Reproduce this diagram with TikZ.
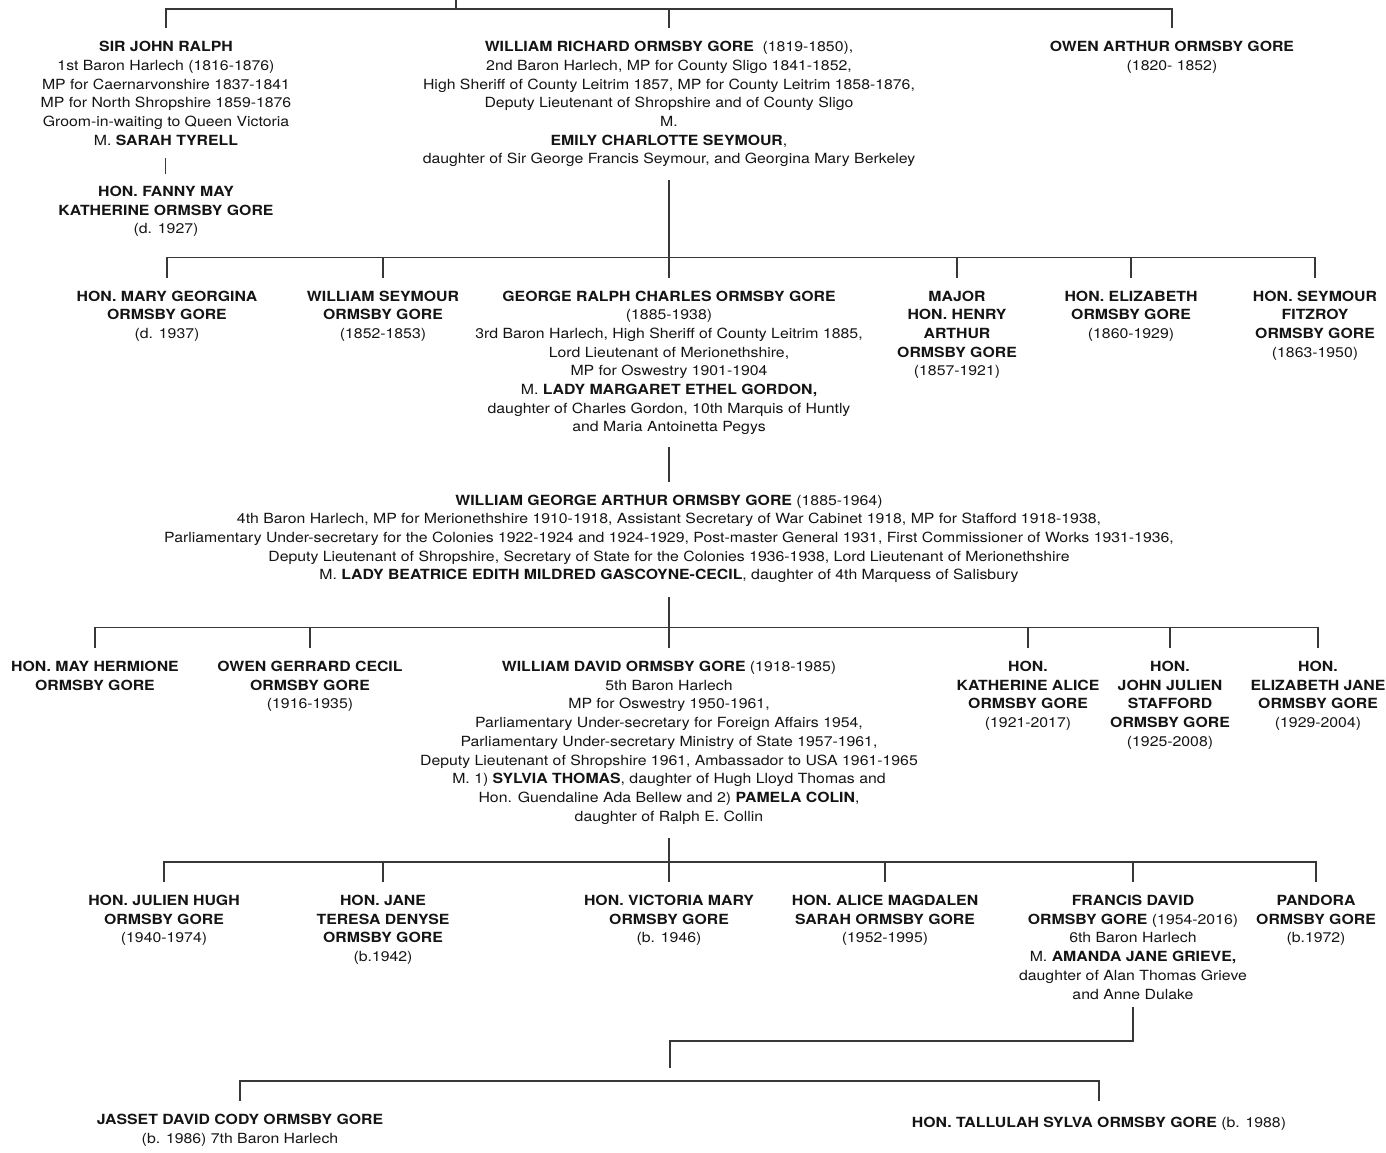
\documentclass[tikz,border=0pt]{standalone}
\usepackage{fontspec}
\setmainfont[FakeStretch=1.13]{TeX Gyre Heros}
\begin{document}
\begin{tikzpicture}[x=1pt,y=-1pt,
  person/.style={align=center, inner sep=0pt, anchor=north, yshift=5.5pt,
    font=\fontsize{14}{18.7}\selectfont, text=black!92,
    execute at begin node=\strut},
  conn/.style={draw=black!78, line width=1.1pt}]
\useasboundingbox (0,0) rectangle (1386,1153);

% ---------- generation 1 ----------
\coordinate (top) at (456,0);
\coordinate (b1) at (456,9);
\node[person] (srj) at (166,46.7) {\textbf{SIR JOHN RALPH}\\1st Baron Harlech (1816-1876)\\MP for Caernarvonshire 1837-1841\\MP for North Shropshire 1859-1876\\Groom-in-waiting to Queen Victoria\\M. \textbf{SARAH TYRELL}};
\node[person] (wrog) at (669,46.7) {\textbf{WILLIAM RICHARD ORMSBY GORE}\ \ (1819-1850),\\2nd Baron Harlech, MP for County Sligo 1841-1852,\\High Sheriff of County Leitrim 1857, MP for County Leitrim 1858-1876,\\Deputy Lieutenant of Shropshire and of County Sligo\\M.\\\textbf{EMILY CHARLOTTE SEYMOUR},\\daughter of Sir George Francis Seymour, and Georgina Mary Berkeley};
\node[person] (oaog) at (1172,46.7) {\textbf{OWEN ARTHUR ORMSBY GORE}\\(1820- 1852)};
\node[person] (fanny) at (166,191.5) {\textbf{HON. FANNY MAY}\\\textbf{KATHERINE ORMSBY GORE}\\(d. 1927)};

\draw[conn] (top) -- (b1);
\draw[conn] ([yshift=13pt]srj.north) |- (b1) -| ([yshift=13pt]oaog.north);
\draw[conn] (b1 -| wrog) -- ([yshift=13pt]wrog.north);
\coordinate (srjd) at (165.5,158);
\coordinate (fannyu) at (165.5,174);
\draw[conn] (srjd) -- (fannyu);

% ---------- generation 2 ----------
\coordinate (wrogd) at (669,180);
\coordinate (b2) at (669,257.3);
\node[person] (mg) at (167,296) {\textbf{HON. MARY GEORGINA}\\\textbf{ORMSBY GORE}\\(d. 1937)};
\node[person] (ws) at (383,296) {\textbf{WILLIAM SEYMOUR}\\\textbf{ORMSBY GORE}\\(1852-1853)};
\node[person] (grc) at (669,296) {\textbf{GEORGE RALPH CHARLES ORMSBY GORE}\\(1885-1938)\\3rd Baron Harlech, High Sheriff of County Leitrim 1885,\\Lord Lieutenant of Merionethshire,\\MP for Oswestry 1901-1904\\M. \textbf{LADY MARGARET ETHEL GORDON,}\\daughter of Charles Gordon, 10th Marquis of Huntly\\and Maria Antoinetta Pegys};
\node[person] (maj) at (957,296) {\textbf{MAJOR}\\\textbf{HON. HENRY}\\\textbf{ARTHUR}\\\textbf{ORMSBY GORE}\\(1857-1921)};
\node[person] (eliz) at (1131,296) {\textbf{HON. ELIZABETH}\\\textbf{ORMSBY GORE}\\(1860-1929)};
\node[person] (sf) at (1315,296) {\textbf{HON. SEYMOUR}\\\textbf{FITZROY}\\\textbf{ORMSBY GORE}\\(1863-1950)};

\draw[conn] (wrogd) -- (b2);
\draw[conn] ([yshift=13pt]mg.north) |- (b2) -| ([yshift=13pt]sf.north);
\foreach \n in {ws,grc,maj,eliz} \draw[conn] (b2 -| \n) -- ([yshift=13pt]\n.north);

% ---------- generation 3 ----------
\coordinate (grcd) at (669,447);
\coordinate (wgu) at (669,482);
\draw[conn] (grcd) -- (wgu);
\node[person] (wg) at (669,500) {\textbf{WILLIAM GEORGE ARTHUR ORMSBY GORE} (1885-1964)\\4th Baron Harlech, MP for Merionethshire 1910-1918, Assistant Secretary of War Cabinet 1918, MP for Stafford 1918-1938,\\Parliamentary Under-secretary for the Colonies 1922-1924 and 1924-1929, Post-master General 1931, First Commissioner of Works 1931-1936,\\Deputy Lieutenant of Shropshire, Secretary of State for the Colonies 1936-1938, Lord Lieutenant of Merionethshire\\M. \textbf{LADY BEATRICE EDITH MILDRED GASCOYNE-CECIL}, daughter of 4th Marquess of Salisbury};

% ---------- generation 4 ----------
\coordinate (wgd) at (669,597);
\coordinate (b3) at (669,627.7);
\node[person] (mh) at (95,666.5) {\textbf{HON. MAY HERMIONE}\\\textbf{ORMSBY GORE}};
\node[person] (ogc) at (310,666.5) {\textbf{OWEN GERRARD CECIL}\\\textbf{ORMSBY GORE}\\(1916-1935)};
\node[person] (wd) at (669,666.5) {\textbf{WILLIAM DAVID ORMSBY GORE} (1918-1985)\\5th Baron Harlech\\MP for Oswestry 1950-1961,\\Parliamentary Under-secretary for Foreign Affairs 1954,\\Parliamentary Under-secretary Ministry of State 1957-1961,\\Deputy Lieutenant of Shropshire 1961, Ambassador to USA 1961-1965\\M. 1) \textbf{SYLVIA THOMAS}, daughter of Hugh Lloyd Thomas and\\Hon. Guendaline Ada Bellew and 2) \textbf{PAMELA COLIN},\\daughter of Ralph E. Collin};
\node[person] (ka) at (1028,666.5) {\textbf{HON.}\\\textbf{KATHERINE ALICE}\\\textbf{ORMSBY GORE}\\(1921-2017)};
\node[person] (jjs) at (1170,666.5) {\textbf{HON.}\\\textbf{JOHN JULIEN}\\\textbf{STAFFORD}\\\textbf{ORMSBY GORE}\\(1925-2008)};
\node[person] (ej) at (1318,666.5) {\textbf{HON.}\\\textbf{ELIZABETH JANE}\\\textbf{ORMSBY GORE}\\(1929-2004)};

\draw[conn] (wgd) -- (b3);
\draw[conn] ([yshift=13pt]mh.north) |- (b3) -| ([yshift=13pt]ej.north);
\foreach \n in {ogc,wd,ka,jjs} \draw[conn] (b3 -| \n) -- ([yshift=13pt]\n.north);

% ---------- generation 5 ----------
\coordinate (wdd) at (669,838);
\coordinate (b4) at (669,862);
\node[person] (jh) at (164,900.5) {\textbf{HON. JULIEN HUGH}\\\textbf{ORMSBY GORE}\\(1940-1974)};
\node[person] (jane) at (383,900.5) {\textbf{HON. JANE}\\\textbf{TERESA DENYSE}\\\textbf{ORMSBY GORE}\\(b.1942)};
\node[person] (vm) at (669,900.5) {\textbf{HON. VICTORIA MARY}\\\textbf{ORMSBY GORE}\\(b. 1946)};
\node[person] (am) at (885,900.5) {\textbf{HON. ALICE MAGDALEN}\\\textbf{SARAH ORMSBY GORE}\\(1952-1995)};
\node[person] (fd) at (1133,900.5) {\textbf{FRANCIS DAVID}\\\textbf{ORMSBY GORE} (1954-2016)\\6th Baron Harlech\\M. \textbf{AMANDA JANE GRIEVE,}\\daughter of Alan Thomas Grieve\\and Anne Dulake};
\node[person] (pan) at (1316,900.5) {\textbf{PANDORA}\\\textbf{ORMSBY GORE}\\(b.1972)};

\draw[conn] (wdd) -- (b4);
\draw[conn] ([yshift=13pt]jh.north) |- (b4) -| ([yshift=13pt]pan.north);
\foreach \n in {jane,vm,am,fd} \draw[conn] (b4 -| \n) -- ([yshift=13pt]\n.north);

% ---------- generation 6 ----------
\coordinate (fdd) at (1133,1007);
\coordinate (fdk) at (1133,1041);
\coordinate (midk) at (670,1041);
\coordinate (midd) at (670,1068);
\draw[conn] (fdd) -- (fdk) -- (midk) -- (midd);
\coordinate (b5) at (670,1081);
\node[person] (jas) at (240,1119.5) {\textbf{JASSET DAVID CODY ORMSBY GORE}\\(b. 1986) 7th Baron Harlech};
\node[person] (tal) at (1099,1119.5) {\textbf{HON. TALLULAH SYLVA ORMSBY GORE} (b. 1988)};
\draw[conn] ([yshift=13pt]jas.north) |- (b5) -| ([yshift=13pt]tal.north);
\end{tikzpicture}
\end{document}
